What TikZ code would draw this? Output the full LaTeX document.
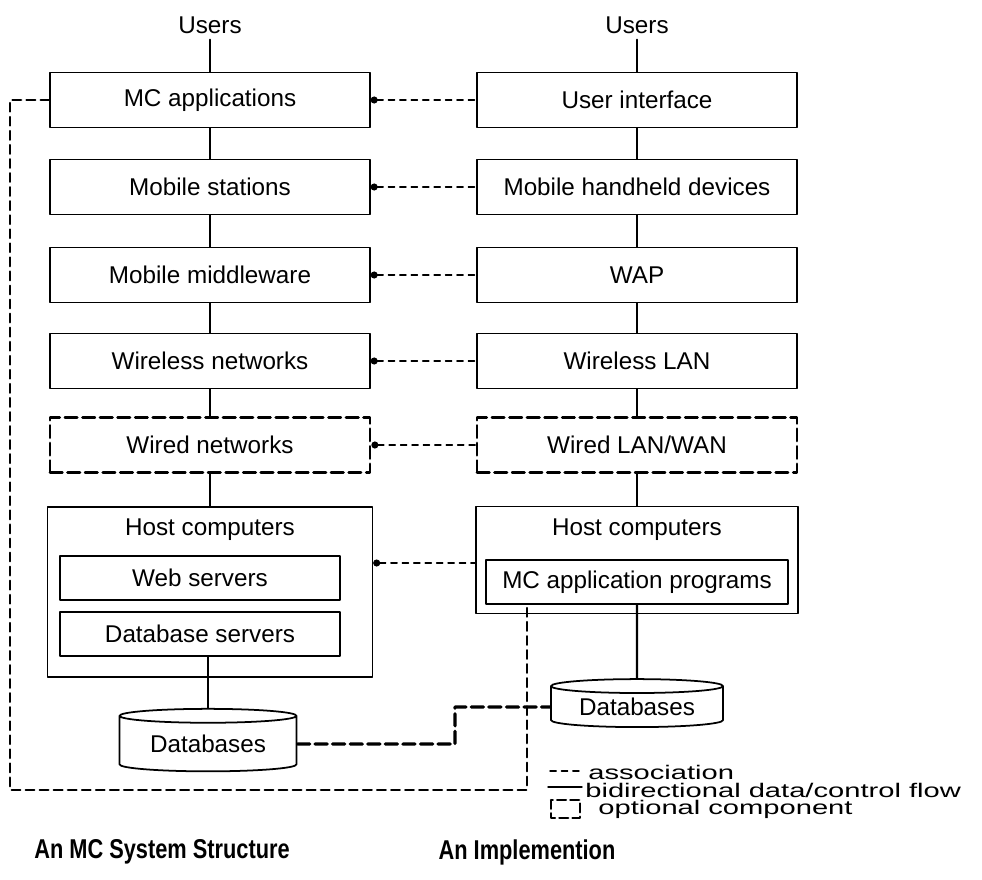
\documentclass[tikz,border=0pt]{standalone}
\usepackage{fontspec}
\setmainfont{Liberation Sans}
\usetikzlibrary{shapes.geometric,arrows.meta}

\begin{document}
\begin{tikzpicture}[x=0.02cm,y=-0.02cm,line cap=round,line join=round,
  every node/.style={font=\fontsize{13.8}{16}\selectfont},
  layer/.style={draw,line width=0.8pt,minimum width=6.4cm,minimum height=1.1cm,inner sep=0pt},
  optlayer/.style={layer,line width=1.6pt,dash pattern=on 7pt off 3pt},
  sublayer/.style={draw,line width=0.8pt,minimum height=0.88cm,inner sep=0pt},
  dbase/.style={draw,line width=1pt,cylinder,shape border rotate=90,aspect=0.12,inner sep=0pt},
  flow/.style={line width=1.2pt},
  assoc/.style={line width=0.8pt,dash pattern=on 3.5pt off 3pt,{Circle[length=4pt]}-},
  loopline/.style={line width=1.2pt,dash pattern=on 5pt off 3pt},
  dblink/.style={line width=1.8pt,dash pattern=on 7pt off 3pt},
  legendtext/.style={anchor=west,inner sep=0pt,font=\fontsize{11.2}{13}\selectfont},
  caption/.style={font=\fontsize{15.5}{18}\bfseries\selectfont}]
  \useasboundingbox (0,0) rectangle (982,879);

  \node (usersl) at (210,25) {Users};
  \node[layer] (mcapp) at (210,100) {MC applications};
  \node[layer] (mstat) at (210,187) {Mobile stations};
  \node[layer] (mmid) at (210,275) {Mobile middleware};
  \node[layer] (wless) at (210,361) {Wireless networks};
  \node[optlayer] (wired) at (210,445) {Wired networks};
  \node[layer,minimum width=6.5cm,minimum height=3.4cm] (hostl) at (210,592) {};
  \node (hostlbl) at (210,530) {Host computers};
  \node[sublayer,minimum width=5.6cm] (websrv) at (200,578) {Web servers};
  \node[sublayer,minimum width=5.6cm] (dbsrv) at (200,634) {Database servers};
  \node[dbase,minimum width=3.54cm,minimum height=1.25cm] (dbl) at (208,744) {Databases};

  \node (usersr) at (637,25) {Users};
  \node[layer] (uif) at (637,100) {User interface};
  \node[layer] (mhand) at (637,187) {Mobile handheld devices};
  \node[layer] (wap) at (637,275) {WAP};
  \node[layer] (wlan) at (637,361) {Wireless LAN};
  \node[optlayer] (wiredlan) at (637,445) {Wired LAN/WAN};
  \node[layer,minimum width=6.44cm,minimum height=2.14cm] (hostr) at (637,560) {};
  \node (hostrlbl) at (637,530) {Host computers};
  \node[sublayer,minimum width=6.04cm] (mcprog) at (637,582) {MC application programs};
  \node[dbase,minimum width=3.44cm,minimum height=0.96cm] (dbr) at (637,707) {Databases};

  \draw[flow] (usersl) -- (mcapp);
  \draw[flow] (mcapp) -- (mstat);
  \draw[flow] (mstat) -- (mmid);
  \draw[flow] (mmid) -- (wless);
  \draw[flow] (wless) -- (wired);
  \draw[flow] (wired) -- (hostl);
  \draw[flow] (dbsrv.south -| dbl.north) -- (dbl.north);

  \draw[flow] (usersr) -- (uif);
  \draw[flow] (uif) -- (mhand);
  \draw[flow] (mhand) -- (wap);
  \draw[flow] (wap) -- (wlan);
  \draw[flow] (wlan) -- (wiredlan);
  \draw[flow] (wiredlan) -- (hostr);
  \draw[flow] (mcprog) -- (dbr);

  \draw[assoc] (mcapp) -- (uif);
  \draw[assoc] (mstat) -- (mhand);
  \draw[assoc] (mmid) -- (wap);
  \draw[assoc] (wless) -- (wlan);
  \draw[assoc] (wired) -- (wiredlan);
  \coordinate (hostlink) at (0,563);
  \draw[assoc] (hostl.east |- hostlink) -- (hostr.west |- hostlink);

  \coordinate (loopsw) at (10,790);
  \coordinate (loopse) at (527,790);
  \draw[loopline] (mcapp.west) -| (loopsw) -- (loopse) -- (loopse |- mcprog.south);
  \coordinate (dbbend) at (455,707);
  \draw[dblink] (dbl.east) -| (dbbend) -- (dbr.west);

  \draw[line width=0.8pt,dash pattern=on 3.5pt off 3pt] (550,771) -- (580,771);
  \node[legendtext] (assoclbl) at (588,772) {\scalebox{1.48}[1]{association}};
  \draw[line width=0.8pt] (548,787) -- (582,787);
  \node[legendtext] (flowlbl) at (585,790) {\scalebox{1.48}[1]{bidirectional data/control flow}};
  \draw[line width=1.4pt,dash pattern=on 5pt off 2.5pt] (551,800) rectangle (580,818);
  \node[legendtext] (optlbl) at (598,809) {\scalebox{1.48}[1]{optional component}};

  \node[caption] (capl) at (162,852) {\scalebox{0.8}[1]{An MC System Structure}};
  \node[caption] (capr) at (527,852) {\scalebox{0.8}[1]{An Implemention}};
\end{tikzpicture}
\end{document}
